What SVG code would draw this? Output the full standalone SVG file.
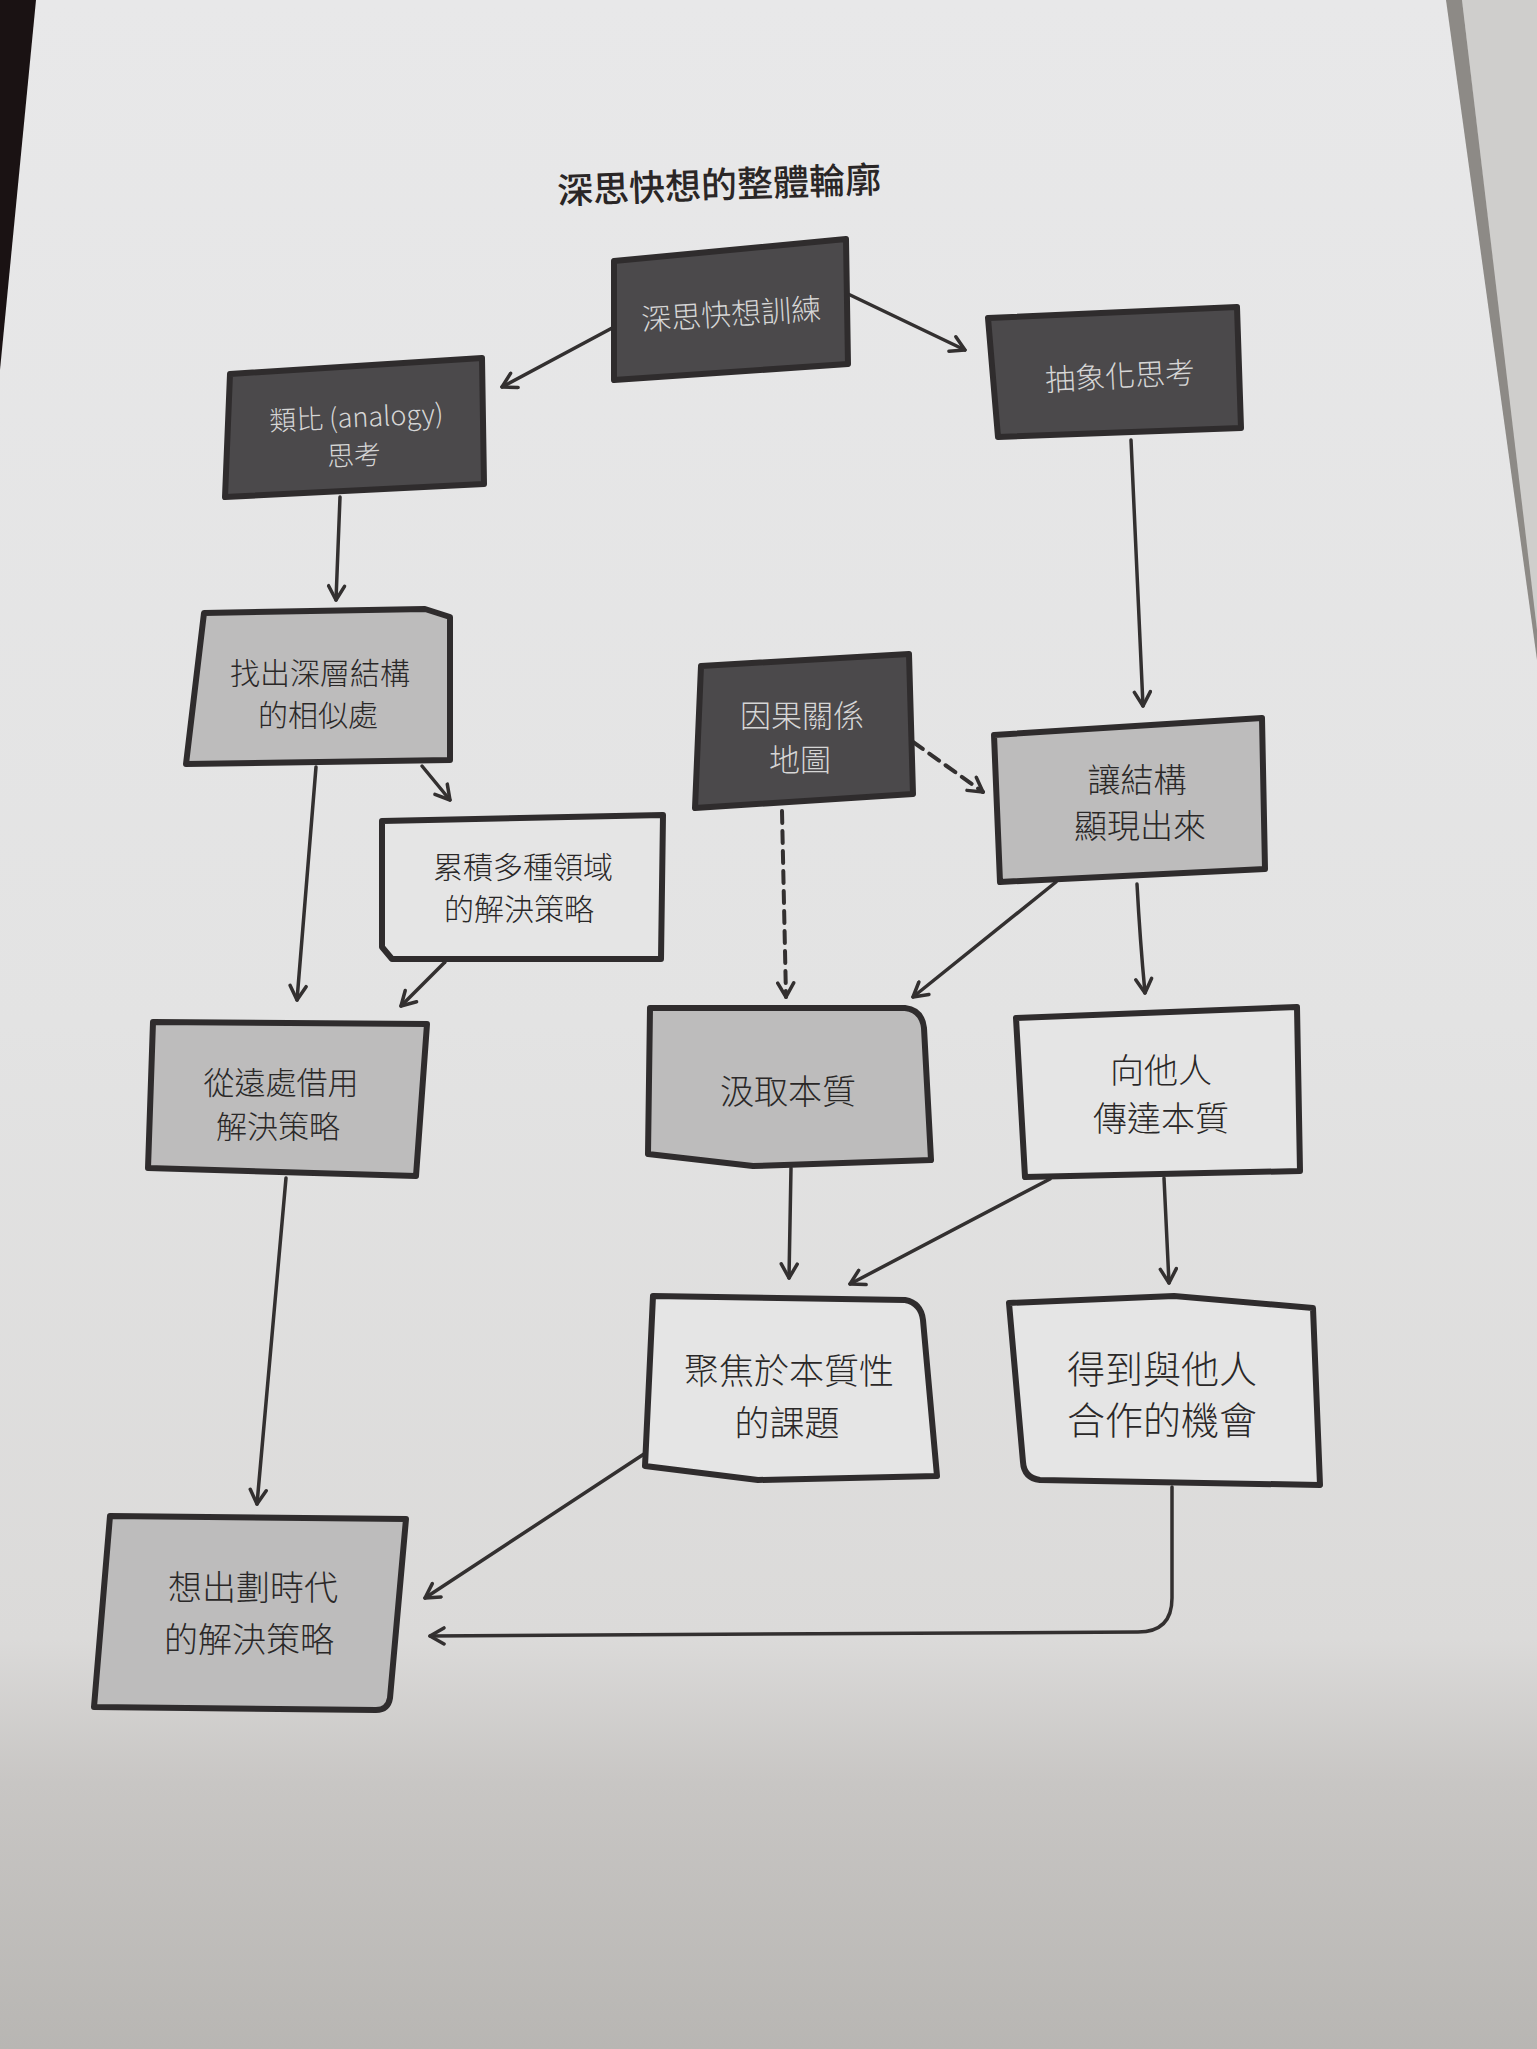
<svg xmlns="http://www.w3.org/2000/svg" width="1537" height="2049" viewBox="0 0 1537 2049">
<defs>
<linearGradient id="paper" x1="0" y1="0" x2="0" y2="1">
<stop offset="0" stop-color="#e8e8e9"/>
<stop offset="0.5" stop-color="#e3e3e3"/>
<stop offset="0.8" stop-color="#dbdad9"/>
<stop offset="0.87" stop-color="#c8c6c4"/>
<stop offset="1" stop-color="#b8b6b3"/>
</linearGradient>
<marker id="arr" viewBox="0 0 20 20" refX="17" refY="10" markerWidth="20" markerHeight="20" markerUnits="userSpaceOnUse" orient="auto">
<path d="M3,2 L17,10 L3,18" fill="none" stroke="#333030" stroke-width="3.5" stroke-linecap="round" stroke-linejoin="round"/>
</marker>
</defs>
<style>
.dark{fill:#4b494b;stroke:#2f2c2d;stroke-width:6;stroke-linejoin:round}
.gray{fill:#bdbcbc;stroke:#2f2c2d;stroke-width:6;stroke-linejoin:round}
.white{fill:#e5e5e5;stroke:#2f2c2d;stroke-width:6;stroke-linejoin:round}
.lt{fill:#d6d6d6;font-family:"Noto Sans CJK TC","Noto Sans CJK SC",sans-serif;font-weight:300;text-anchor:middle;dominant-baseline:central}
.dt{fill:#2a2828;font-family:"Noto Sans CJK TC","Noto Sans CJK SC",sans-serif;font-weight:300;text-anchor:middle;dominant-baseline:central}
.conn{fill:none;stroke:#333030;stroke-width:3.5;stroke-linecap:round;marker-end:url(#arr)}
.dash{stroke-dasharray:12 8;stroke-width:4}
</style>

<!-- page background -->
<rect x="0" y="0" width="1537" height="2049" fill="url(#paper)"/>
<polygon points="0,0 36,0 0,370" fill="#1a1213"/>
<polygon points="1462,0 1537,0 1537,640" fill="#cfcecc"/>
<polygon points="1446,0 1462,0 1537,630 1537,660" fill="#8d8a86"/>

<text x="719" y="182" transform="rotate(-2 719 182)" font-family="'Noto Sans CJK TC','Noto Sans CJK SC',sans-serif" font-weight="500" font-size="36" fill="#2a2626" text-anchor="middle" dominant-baseline="central">深思快想的整體輪廓</text>

<g id="connectors">
<line class="conn" x1="614" y1="327" x2="502" y2="387"/>
<line class="conn" x1="846" y1="293" x2="965" y2="350"/>
<line class="conn" x1="340" y1="497" x2="336" y2="600"/>
<line class="conn" x1="1131" y1="440" x2="1143" y2="706"/>
<line class="conn" x1="422" y1="766" x2="450" y2="800"/>
<line class="conn" x1="316" y1="767" x2="297" y2="1000"/>
<line class="conn" x1="445" y1="962" x2="401" y2="1006"/>
<line class="conn dash" x1="913" y1="742" x2="983" y2="792"/>
<line class="conn dash" x1="782" y1="811" x2="786" y2="997"/>
<line class="conn" x1="1056" y1="882" x2="913" y2="997"/>
<path class="conn" d="M1137,884 Q1140,940 1145,993"/>
<line class="conn" x1="791" y1="1168" x2="789" y2="1278"/>
<line class="conn" x1="1050" y1="1179" x2="850" y2="1284"/>
<line class="conn" x1="1164" y1="1178" x2="1169" y2="1283"/>
<line class="conn" x1="286" y1="1178" x2="257" y2="1504"/>
<line class="conn" x1="644" y1="1454" x2="425" y2="1598"/>
<path class="conn" d="M1172,1487 L1172,1598 Q1172,1632 1138,1632 L430,1636"/>
</g>

<g id="n1">
<polygon class="dark" points="614,261 846,239 848,364 614,380"/>
<text class="lt" x="731" y="312" font-size="30" transform="rotate(-3.5 731 312)">深思快想訓練</text>
</g>
<g id="n2">
<polygon class="dark" points="230,374 482,358 484,484 225,497"/>
<text class="lt" font-size="27" transform="rotate(-2.5 357 434)"><tspan x="357" y="415">類比 (analogy)</tspan><tspan x="353" y="453">思考</tspan></text>
</g>
<g id="n3">
<polygon class="dark" points="988,318 1237,307 1241,428 998,437"/>
<text class="lt" x="1120" y="374" font-size="30" transform="rotate(-3 1120 374)">抽象化思考</text>
</g>
<g id="n4">
<polygon class="gray" points="204,613 425,609 450,617 450,760 186,764"/>
<text class="dt" font-size="30"><tspan x="320" y="671">找出深層結構</tspan><tspan x="318" y="713">的相似處</tspan></text>
</g>
<g id="n5">
<polygon class="white" points="382,821 663,815 661,959 392,959 382,947"/>
<text class="dt" font-size="30"><tspan x="523" y="865">累積多種領域</tspan><tspan x="519" y="907">的解決策略</tspan></text>
</g>
<g id="n6">
<polygon class="gray" points="153,1022 427,1024 416,1176 148,1168"/>
<text class="dt" font-size="31"><tspan x="281" y="1080">從遠處借用</tspan><tspan x="278" y="1124">解決策略</tspan></text>
</g>
<g id="n7">
<polygon class="dark" points="701,666 909,654 913,794 695,808"/>
<text class="lt" font-size="31"><tspan x="802" y="713">因果關係</tspan><tspan x="800" y="757">地圖</tspan></text>
</g>
<g id="n8">
<polygon class="gray" points="994,735 1262,718 1265,869 1000,882"/>
<text class="dt" font-size="33"><tspan x="1137" y="778">讓結構</tspan><tspan x="1140" y="824">顯現出來</tspan></text>
</g>
<g id="n9">
<path class="gray" d="M650,1008 L905,1008 Q922,1010 924,1028 L931,1160 L753,1166 L648,1154 Z"/>
<text class="dt" x="788" y="1089" font-size="34">汲取本質</text>
</g>
<g id="n10">
<polygon class="white" points="1016,1018 1297,1007 1300,1171 1025,1177"/>
<text class="dt" font-size="34"><tspan x="1161" y="1068">向他人</tspan><tspan x="1161" y="1116">傳達本質</tspan></text>
</g>
<g id="n11">
<path class="white" d="M653,1296 L905,1300 Q921,1303 923,1320 L937,1476 L758,1480 L645,1466 Z"/>
<text class="dt" font-size="35"><tspan x="789" y="1368">聚焦於本質性</tspan><tspan x="787" y="1420">的課題</tspan></text>
</g>
<g id="n12">
<path class="white" d="M1009,1303 L1174,1296 L1313,1308 L1320,1485 L1040,1480 Q1024,1478 1023,1462 Z"/>
<text class="dt" font-size="38"><tspan x="1162" y="1366">得到與他人</tspan><tspan x="1162" y="1417">合作的機會</tspan></text>
</g>
<g id="n13">
<path class="gray" d="M110,1516 L406,1519 L390,1698 Q388,1710 376,1710 L94,1707 Z"/>
<text class="dt" font-size="34"><tspan x="253" y="1585">想出劃時代</tspan><tspan x="249" y="1637">的解決策略</tspan></text>
</g>
</svg>
